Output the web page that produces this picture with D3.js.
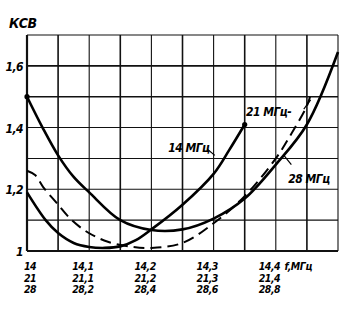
<!DOCTYPE html>
<html><head><meta charset="utf-8">
<script src="https://cdn.jsdelivr.net/npm/d3@7"></script>
<style>
html,body{margin:0;padding:0;background:#fff;}
text{font-family:"Liberation Sans Narrow","DejaVu Sans Condensed","Liberation Sans",sans-serif;font-style:italic;font-weight:bold;fill:#000;}
</style></head>
<body>
<svg id="c" width="356" height="332"></svg>
<script>
// frequency axis in 14 MHz-band units
const xTicks = [14, 14.1, 14.2, 14.3, 14.4];
const labels14 = ["14","14,1","14,2","14,3","14,4"];
const labels21 = ["21","21,1","21,2","21,3","21,4"];
const labels28 = ["28","28,2","28,4","28,6","28,8"];
const yTicks = [1, 1.2, 1.4, 1.6];
const yLabels = ["1","1,2","1,4","1,6"];

// 14 MHz (solid, starts at 1.2)
const f14 = [14.0, 14.03, 14.05, 14.075, 14.1, 14.125, 14.15, 14.175, 14.2, 14.25, 14.3, 14.325, 14.35];
const v14 = [1.19, 1.10, 1.058, 1.026, 1.013, 1.01, 1.015, 1.035, 1.07, 1.15, 1.25, 1.327, 1.41];
// 21 MHz (dashed)
const f21 = [14.0, 14.013, 14.026, 14.048, 14.072, 14.098, 14.13, 14.17, 14.2, 14.25, 14.3, 14.35, 14.4, 14.425, 14.45, 14.455];
const v21 = [1.26, 1.246, 1.207, 1.155, 1.10, 1.06, 1.03, 1.013, 1.01, 1.026, 1.09, 1.178, 1.30, 1.38, 1.47, 1.50];
// 28 MHz (solid, starts at 1.5)
const f28 = [14.0, 14.025, 14.05, 14.075, 14.1, 14.15, 14.2, 14.25, 14.3, 14.35, 14.4, 14.45, 14.5];
const v28 = [1.50, 1.40, 1.31, 1.24, 1.19, 1.10, 1.068, 1.07, 1.105, 1.17, 1.28, 1.41, 1.645];

const svg = d3.select("#c");
const L = 27, R = 338, T = 35, B = 251;
const x = d3.scaleLinear().domain([14, 14.5]).range([L, R]);
const y = d3.scaleLinear().domain([1, 1.7]).range([B, T]);

// grid
const g = svg.append("g");
d3.range(0, 11).forEach(i => {
  const xv = 14 + i * 0.05;
  g.append("line").attr("x1", x(xv)).attr("x2", x(xv)).attr("y1", y(1.7)).attr("y2", y(1))
   .attr("stroke", "#111").attr("stroke-width", i === 0 ? 2.2 : (i % 2 === 1 ? 1.6 : 1.1));
});
d3.range(0, 8).forEach(i => {
  const yv = 1 + i * 0.1;
  g.append("line").attr("x1", x(14)).attr("x2", x(14.5)).attr("y1", y(yv)).attr("y2", y(yv))
   .attr("stroke", "#111").attr("stroke-width", i === 0 ? 2.2 : (i === 5 || i === 6 ? 1.6 : 1.1));
});

const line = d3.line().x(d => x(d[0])).y(d => y(d[1])).curve(d3.curveCatmullRom.alpha(0.5));
const zip = (a, b) => a.map((v, i) => [v, b[i]]);

svg.append("path").attr("d", line(zip(f14, v14))).attr("fill", "none")
  .attr("stroke", "#000").attr("stroke-width", 2.6);
svg.append("path").attr("d", line(zip(f28, v28))).attr("fill", "none")
  .attr("stroke", "#000").attr("stroke-width", 2.6);
svg.append("path").attr("d", line(zip(f21, v21))).attr("fill", "none")
  .attr("stroke", "#000").attr("stroke-width", 2).attr("stroke-dasharray", "11,6");

// end dots
[[f28[0], v28[0]], [f14[f14.length - 1], v14[v14.length - 1]]].forEach(p => {
  svg.append("circle").attr("cx", x(p[0])).attr("cy", y(p[1])).attr("r", 2.6).attr("fill", "#000");
});

// y tick labels
yTicks.forEach((t, i) => {
  svg.append("text").attr("x", 23).attr("y", y(t) + 5).attr("text-anchor", "end")
    .attr("font-size", 12).attr("letter-spacing", -0.5).text(yLabels[i]);
});
svg.append("text").attr("x", 9).attr("y", 28).attr("font-size", 14).attr("letter-spacing", -0.5).text("КСВ");

// x tick labels (three rows)
xTicks.forEach((t, i) => {
  const xp = i === 0 ? x(t) - 3 : x(t) - 17;
  [labels14, labels21, labels28].forEach((lab, r) => {
    svg.append("text").attr("x", xp).attr("y", 270 + r * 11.5).attr("font-size", 10.5)
      .attr("letter-spacing", -0.5).text(lab[i]);
  });
});
svg.append("text").attr("x", x(14.414)).attr("y", 270).attr("font-size", 10.5)
  .attr("letter-spacing", -0.4).text("f,МГц");

// curve labels
svg.append("text").attr("x", x(14.227)).attr("y", y(1.32)).attr("font-size", 12).attr("letter-spacing", -0.5).text("14 МГц");
svg.append("line").attr("x1", x(14.29)).attr("y1", y(1.33)).attr("x2", x(14.302)).attr("y2", y(1.31))
  .attr("stroke", "#000").attr("stroke-width", 1.2);
svg.append("text").attr("x", x(14.352)).attr("y", y(1.437)).attr("font-size", 12).attr("letter-spacing", -0.5).text("21 МГц-");
svg.append("line").attr("x1", x(14.445)).attr("y1", y(1.46)).attr("x2", x(14.456)).attr("y2", y(1.49))
  .attr("stroke", "#000").attr("stroke-width", 1.2);
svg.append("text").attr("x", x(14.42)).attr("y", y(1.22)).attr("font-size", 12).attr("letter-spacing", -0.5).text("28 МГц");
svg.append("line").attr("x1", x(14.425)).attr("y1", y(1.28)).attr("x2", x(14.413)).attr("y2", y(1.31))
  .attr("stroke", "#000").attr("stroke-width", 1.2);
</script>
</body></html>
